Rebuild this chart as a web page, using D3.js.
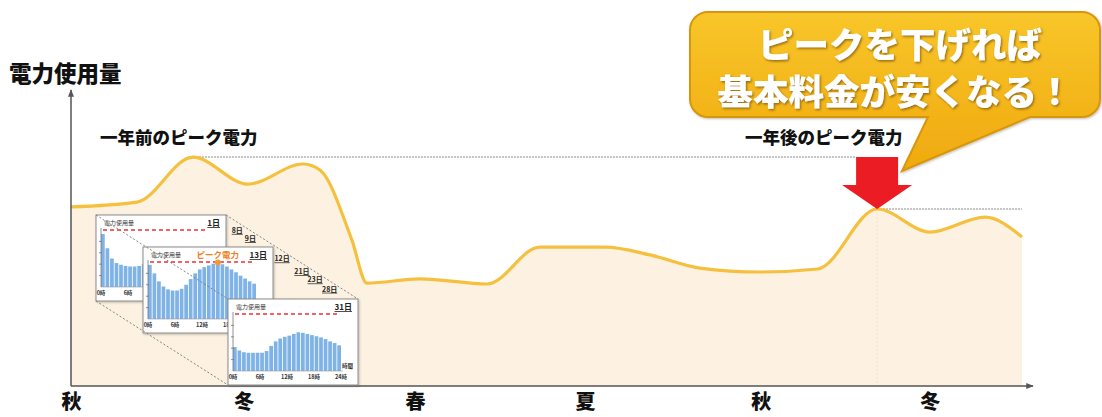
<!DOCTYPE html>
<html>
<head>
<meta charset="utf-8">
<script src="https://cdn.jsdelivr.net/npm/d3@7"></script>
<style>
  body { margin: 0; background: #fff; }
  svg { display: block; font-family: "Noto Sans CJK JP", "Noto Sans", sans-serif; }
</style>
</head>
<body>
<svg id="chart" width="1102" height="417"></svg>
<script>
// Electricity usage across the seasons (month index from autumn, relative units)
const months = [0, 1.18, 2.18, 3.16, 4.15, 4.45, 5.02, 5.29, 6.24, 7.44, 8.38, 9.55, 10.35, 11.24, 12.32, 13.35, 14.41, 15.36, 16.34, 17];
const usage  = [59.7, 61.3, 76.3, 67.3, 74.0, 72.0, 48.7, 34.3, 35.7, 34.0, 46.3, 46.3, 43.7, 39.3, 38.0, 39.0, 59.0, 51.3, 56.3, 49.7];

// Season tick labels along the time axis
const seasons      = ["秋", "冬", "春", "夏", "秋", "冬"];
const seasonMonths = [0, 3.09, 6.15, 9.19, 12.33, 15.35];

// Hourly demand for three sample days of the winter month (peak line = 100)
const hours = d3.range(24);
const day1  = [93, 68, 50, 42, 39, 37, 36, 36, 37, 40, 44, 48, 52, 55, 57, 58, 57, 55, 53, 51, 49, 47, 45, 43];
const day13 = [95, 80, 66, 57, 52, 50, 50, 53, 60, 70, 80, 87, 91, 94, 97, 99, 96, 92, 87, 82, 76, 71, 66, 62];
const day31 = [42, 36, 33, 32, 32, 32, 32, 35, 44, 52, 57, 60, 62, 65, 68, 67, 65, 63, 61, 59, 56, 52, 49, 45];
const hourTicks  = [0, 6, 12, 18, 24];
const stackDays  = ["8日", "9日", "12日", "21日", "23日", "28日"];
const stackSteps = [0.07, 0.17, 0.41, 0.56, 0.66, 0.77];

const svg = d3.select("#chart");

const x = d3.scaleLinear().domain([0, 17]).range([71, 1022]);
const y = d3.scaleLinear().domain([0, 100]).range([386, 86]);
const xEnd = 1033, yTop = 90;

const defs = svg.append("defs");
const grad = defs.append("linearGradient").attr("id", "bubbleFill")
  .attr("x1", 0).attr("y1", 0).attr("x2", 0).attr("y2", 1);
grad.append("stop").attr("offset", "0%").attr("stop-color", "#f8c62a");
grad.append("stop").attr("offset", "100%").attr("stop-color", "#f0a90e");

const txtShadow = defs.append("filter").attr("id", "txtShadow")
  .attr("x", "-10%").attr("y", "-20%").attr("width", "130%").attr("height", "150%");
txtShadow.append("feDropShadow").attr("dx", 1.2).attr("dy", 1.5)
  .attr("stdDeviation", 1.2).attr("flood-color", "#7a5200").attr("flood-opacity", 0.75);

const boxShadow = defs.append("filter").attr("id", "boxShadow")
  .attr("x", "-10%").attr("y", "-10%").attr("width", "125%").attr("height", "125%");
boxShadow.append("feDropShadow").attr("dx", 1).attr("dy", 1)
  .attr("stdDeviation", 1).attr("flood-color", "#000").attr("flood-opacity", 0.25);

const arrowHead = defs.append("marker").attr("id", "axisArrow")
  .attr("viewBox", "0 0 10 10").attr("refX", 9).attr("refY", 5)
  .attr("markerWidth", 5).attr("markerHeight", 5).attr("orient", "auto");
arrowHead.append("path").attr("d", "M0,1 L10,5 L0,9 Z").attr("fill", "#555");

const pts = months.map((m, i) => ({ m, v: usage[i] }));

// Filled area under the usage curve
svg.append("path")
  .datum(pts)
  .attr("fill", "#fdf2e1")
  .attr("d", d3.area().x(d => x(d.m)).y0(y(0)).y1(d => y(d.v)).curve(d3.curveMonotoneX));

// Peaks: last year's and this year's maximum
const iPrev = d3.maxIndex(usage.slice(0, 8));
const iNew  = 8 + d3.maxIndex(usage.slice(8));
const prev = pts[iPrev], now = pts[iNew];

// Faint guide under the new peak
svg.append("line")
  .attr("x1", x(now.m)).attr("x2", x(now.m))
  .attr("y1", y(now.v)).attr("y2", y(0))
  .attr("stroke", "#efe3cf").attr("stroke-width", 1).attr("stroke-dasharray", "2,2");

// Dotted reference lines at each peak level
svg.append("line")
  .attr("x1", x(prev.m)).attr("x2", x(now.m) - 21)
  .attr("y1", y(prev.v)).attr("y2", y(prev.v))
  .attr("stroke", "#c4c4c4").attr("stroke-width", 2).attr("stroke-dasharray", "2,1");
svg.append("line")
  .attr("x1", x(now.m)).attr("x2", x(17))
  .attr("y1", y(now.v)).attr("y2", y(now.v))
  .attr("stroke", "#c4c4c4").attr("stroke-width", 2).attr("stroke-dasharray", "2,1");

// Usage curve
svg.append("path")
  .datum(pts)
  .attr("fill", "none")
  .attr("stroke", "#f5c03e")
  .attr("stroke-width", 3.2)
  .attr("stroke-linejoin", "round")
  .attr("d", d3.line().x(d => x(d.m)).y(d => y(d.v)).curve(d3.curveMonotoneX));

// Axes with arrowheads
svg.append("line")
  .attr("x1", x(0)).attr("x2", xEnd).attr("y1", y(0)).attr("y2", y(0))
  .attr("stroke", "#555").attr("stroke-width", 1.5).attr("marker-end", "url(#axisArrow)");
svg.append("line")
  .attr("x1", x(0)).attr("x2", x(0)).attr("y1", y(0)).attr("y2", yTop)
  .attr("stroke", "#555").attr("stroke-width", 1.5).attr("marker-end", "url(#axisArrow)");

const xAxis = svg.append("g")
  .attr("transform", `translate(0,${y(0)})`)
  .call(d3.axisBottom(x).tickValues(seasonMonths).tickSize(0).tickFormat((d, i) => seasons[i]));
xAxis.select(".domain").remove();
xAxis.selectAll("text")
  .attr("y", 23).attr("dy", 0)
  .attr("font-family", "'Noto Sans CJK JP', sans-serif")
  .attr("font-size", 20).attr("font-weight", 900).attr("fill", "#111");

// Axis title
svg.append("text").attr("x", 9).attr("y", 82)
  .attr("font-size", 22.5).attr("font-weight", 900).attr("fill", "#111")
  .text("電力使用量");

// Peak captions
svg.append("text").attr("x", 100).attr("y", 144)
  .attr("font-size", 17.5).attr("font-weight", 900).attr("fill", "#111")
  .text("一年前のピーク電力");
svg.append("text").attr("x", 745).attr("y", 144)
  .attr("font-size", 17.5).attr("font-weight", 900).attr("fill", "#111")
  .text("一年後のピーク電力");

// Red down arrow from last year's peak level to the new peak
{
  const tx = x(now.m), ty = y(now.v), top = y(prev.v);
  const half = 21, headHalf = 35, headTop = ty - 24;
  svg.append("path")
    .attr("d", `M${tx - half},${top} L${tx + half},${top} L${tx + half},${headTop} L${tx + headHalf},${headTop}
                L${tx},${ty} L${tx - headHalf},${headTop} L${tx - half},${headTop} Z`)
    .attr("fill", "#ec1c24");
}

// Speech bubble
{
  const bx = 690, by = 12, bw = 410, bh = 105, r = 18;
  const tailL = 928, tailR = 1030, tipX = 902, tipY = 171;
  const p = d3.path();
  p.moveTo(bx + r, by);
  p.lineTo(bx + bw - r, by);
  p.arcTo(bx + bw, by, bx + bw, by + r, r);
  p.lineTo(bx + bw, by + bh - r);
  p.arcTo(bx + bw, by + bh, bx + bw - r, by + bh, r);
  p.lineTo(tailR, by + bh);
  p.lineTo(tipX, tipY);
  p.lineTo(tailL, by + bh);
  p.lineTo(bx + r, by + bh);
  p.arcTo(bx, by + bh, bx, by + bh - r, r);
  p.lineTo(bx, by + r);
  p.arcTo(bx, by, bx + r, by, r);
  p.closePath();
  svg.append("path").attr("d", p.toString())
    .attr("fill", "url(#bubbleFill)").attr("stroke", "#d8960a").attr("stroke-width", 2)
    .attr("filter", "url(#boxShadow)");

  const g = svg.append("g").attr("filter", "url(#txtShadow)")
    .attr("fill", "#fff").attr("font-weight", 900).attr("text-anchor", "middle");
  g.append("text").attr("x", 900).attr("y", 58).attr("font-size", 35.5).text("ピークを下げれば");
  g.append("text").attr("x", 895).attr("y", 105).attr("font-size", 35.5).text("基本料金が安くなる！");
}

// Small daily load charts (one month stacked in perspective)
const insetW = 130, insetH = 86;
const hx = d3.scaleLinear().domain([0, 24]).range([5, 113]);
const hb = d3.scaleBand().domain(hours).range([5, 113]).paddingInner(0.18);
const hy = d3.scaleLinear().domain([0, 100]).range([72, 15]);

function drawInset(ox, oy, dayLabel, values, withPeak) {
  const g = svg.append("g").attr("transform", `translate(${ox},${oy})`);
  g.append("rect").attr("width", insetW).attr("height", insetH)
    .attr("fill", "#fff").attr("stroke", "#8c8c8c").attr("stroke-width", 1)
    .attr("filter", "url(#boxShadow)");
  g.append("text").attr("x", 8).attr("y", 10).attr("font-size", 6).attr("fill", "#333").text("電力使用量");
  g.append("text").attr("x", insetW - 6).attr("y", 11).attr("text-anchor", "end")
    .attr("font-size", 8).attr("font-weight", 700).attr("fill", "#222")
    .attr("text-decoration", "underline").text(dayLabel);

  g.selectAll("rect.bar").data(values).join("rect").attr("class", "bar")
    .attr("x", (d, i) => hb(i)).attr("width", hb.bandwidth())
    .attr("y", d => hy(d)).attr("height", d => hy(0) - hy(d))
    .attr("fill", "#7fb3e8");

  // left axis with small ticks
  g.append("line").attr("x1", 5).attr("x2", 5).attr("y1", 13).attr("y2", hy(0))
    .attr("stroke", "#777").attr("stroke-width", 0.8);
  g.selectAll("line.tk").data([20, 40, 60, 80]).join("line").attr("class", "tk")
    .attr("x1", 3).attr("x2", 6).attr("y1", d => hy(d)).attr("y2", d => hy(d))
    .attr("stroke", "#777").attr("stroke-width", 0.8);
  g.append("line").attr("x1", 5).attr("x2", 115).attr("y1", hy(0)).attr("y2", hy(0))
    .attr("stroke", "#999").attr("stroke-width", 0.6);

  g.append("line").attr("x1", 7).attr("x2", 109).attr("y1", hy(100)).attr("y2", hy(100))
    .attr("stroke", "#e8323a").attr("stroke-width", 1.3).attr("stroke-dasharray", "4,3");

  g.selectAll("text.hr").data(hourTicks).join("text").attr("class", "hr")
    .attr("x", d => hx(d)).attr("y", 80).attr("text-anchor", "middle")
    .attr("font-size", 5.5).attr("font-weight", 700).attr("fill", "#333")
    .text(d => d + "時");
  g.append("text").attr("x", insetW - 5).attr("y", 69).attr("text-anchor", "end")
    .attr("font-size", 5.5).attr("font-weight", 700).attr("fill", "#333").text("時間");

  if (withPeak) {
    const ip = d3.maxIndex(values);
    g.append("circle").attr("cx", hb(ip) + hb.bandwidth() / 2).attr("cy", hy(values[ip]))
      .attr("r", 3).attr("fill", "#f39a3a");
    g.append("text").attr("x", hb(ip) + hb.bandwidth() / 2).attr("y", 11)
      .attr("text-anchor", "middle").attr("font-size", 8.5).attr("font-weight", 700)
      .attr("fill", "#f07f22").text("ピーク電力");
  }
  return g;
}

const c1 = [96, 215], c2 = [143, 247], c3 = [228, 299];
drawInset(c1[0], c1[1], "1日", day1, false);
drawInset(c2[0], c2[1], "13日", day13, true);

// perspective guides from the first day to the last
const corners = [[0, 0], [insetW, 0], [0, insetH]];
corners.forEach(([dx, dy]) => {
  svg.append("line")
    .attr("x1", c1[0] + dx).attr("y1", c1[1] + dy)
    .attr("x2", c3[0] + dx).attr("y2", c3[1] + dy)
    .attr("stroke", "#777").attr("stroke-width", 0.9).attr("stroke-dasharray", "2,2");
});
stackDays.forEach((d, i) => {
  const t = stackSteps[i];
  const px = c1[0] + insetW + (c3[0] - c1[0]) * t + 2;
  const py = c1[1] + (c3[1] - c1[1]) * t + 12;
  svg.append("text").attr("x", px).attr("y", py).attr("text-anchor", "middle")
    .attr("font-size", 7).attr("font-weight", 700).attr("fill", "#222")
    .attr("text-decoration", "underline").text(d);
});

drawInset(c3[0], c3[1], "31日", day31, false);
</script>
</body>
</html>
